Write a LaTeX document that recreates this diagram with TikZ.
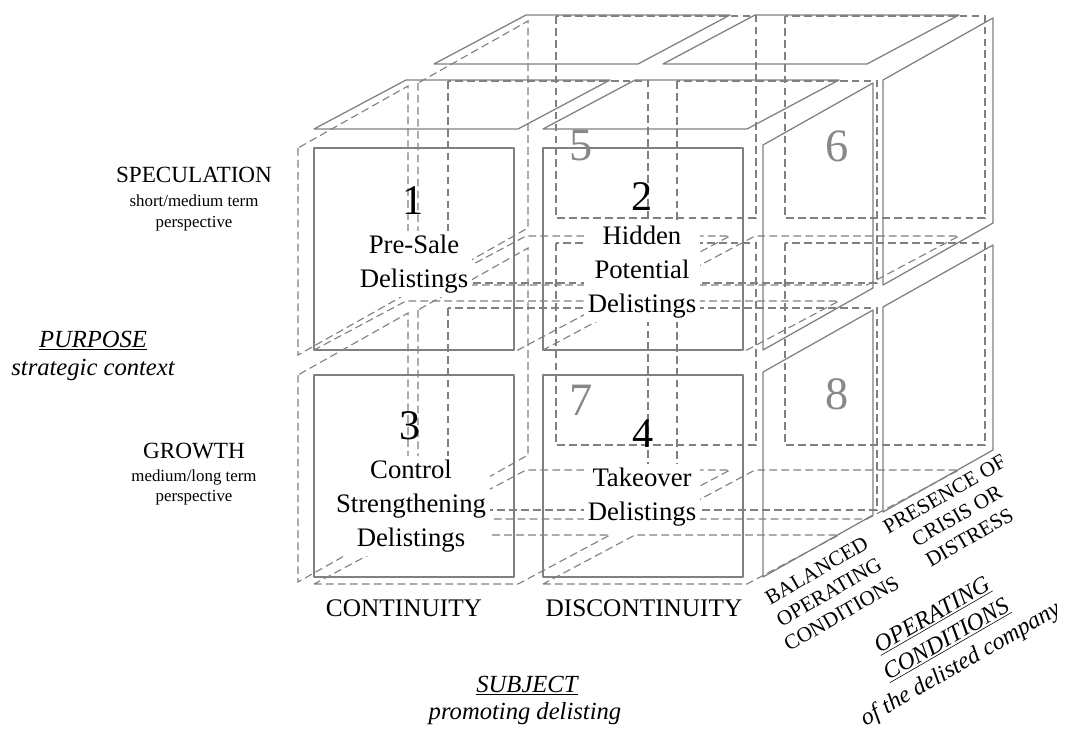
\documentclass[tikz,border=0pt]{standalone}
\usepackage{fontspec}
\setmainfont{Liberation Serif}
\definecolor{edgegray}{RGB}{128,128,128}
\definecolor{numgray}{RGB}{136,136,136}

\begin{document}
\begin{tikzpicture}[x=0.025cm,y=-0.025cm,
  panel/.style={draw=edgegray,line width=0.9pt,line join=round},
  hidpanel/.style={draw=edgegray,line width=0.8pt,dash pattern=on 5.5pt off 3pt},
  cellno/.style={font=\fontsize{30}{30}\selectfont},
  backno/.style={font=\fontsize{33}{33}\selectfont,text=numgray},
  cellname/.style={font=\fontsize{19}{24}\selectfont,align=center,fill=white,inner sep=3pt},
  rowname/.style={anchor=base,font=\fontsize{16.5}{20}\selectfont},
  rownote/.style={anchor=base,font=\fontsize{12}{14}\selectfont},
  axisname/.style={anchor=base,font=\fontsize{17.5}{21}\selectfont\itshape},
  colname/.style={anchor=base,font=\fontsize{18}{21}\selectfont},
  depthname/.style={rotate=30,align=center,font=\fontsize{15}{17.7}\selectfont}]
\useasboundingbox (0,0) rectangle (1069,735);

% hidden panels of the eight cubes
\foreach \k in {0,1}
  \foreach \c in {0,1}
    \foreach \r in {0,1}
    {
      \begin{scope}[shift={(314+229*\c+120*\k,148+227*\r-65*\k)}]
        \draw[hidpanel] (134-12*\k,-67) rectangle ++(200,202);
        \draw[hidpanel] (0,202+7*\r) -- (204,202+7*\r) -- (296,153+7*\r) -- (92,153+7*\r) -- cycle;
        \ifnum\c=0
          \draw[hidpanel] (-16,0) -- (-16,207) -- (94,145) -- (94,-62) -- cycle;
        \fi
      \end{scope}
    }

% visible panels: fronts, tops, right sides
\foreach \c in {0,1}
  \foreach \r in {0,1}
    \draw[panel] (314+229*\c,148+227*\r) rectangle ++(200,202);
\foreach \k in {0,1}
  \foreach \c in {0,1}
  {
    \begin{scope}[shift={(314+229*\c+120*\k,148-65*\k)}]
      \draw[panel] (0,-19) -- (204,-19) -- (296,-68) -- (92,-68) -- cycle;
    \end{scope}
  }
\foreach \k in {0,1}
  \foreach \r in {0,1}
  {
    \begin{scope}[shift={(543+120*\k,148+227*\r-65*\k)}]
      \draw[panel] (220,-3) -- (220,202) -- (330,140) -- (330,-65) -- cycle;
    \end{scope}
  }

% cell numbers and names
\node[backno] (num5) at (581,146) {5};
\node[backno] (num6) at (837,146) {6};
\node[backno] (num7) at (581,400) {7};
\node[backno] (num8) at (837,394) {8};
\node[cellno] (num1) at (413,201) {1};
\node[cellno] (num2) at (642,197) {2};
\node[cellno] (num3) at (410,426) {3};
\node[cellno] (num4) at (643,434) {4};
\node[cellname] (presale) at (414,264) {Pre-Sale\\Delistings};
\node[cellname] (hidden) at (642,272) {Hidden\\Potential\\Delistings};
\node[cellname] (control) at (411,506) {Control\\Strengthening\\Delistings};
\node[cellname] (takeover) at (642,497) {Takeover\\Delistings};

% purpose axis
\node[rowname] (spec) at (194,182) {SPECULATION};
\node[rownote] (specA) at (194,206) {short/medium term};
\node[rownote] (specB) at (194,227) {perspective};
\node[axisname] (purpose) at (93,347) {\underline{PURPOSE}};
\node[axisname] (purposeA) at (93,375) {strategic context};
\node[rowname] (growth) at (194,458) {GROWTH};
\node[rownote] (growthA) at (194,481) {medium/long term};
\node[rownote] (growthB) at (194,501) {perspective};

% subject axis
\node[colname] (cont) at (404,616) {CONTINUITY};
\node[colname] (discont) at (644,616) {DISCONTINUITY};
\node[axisname] (subject) at (527,692) {\underline{SUBJECT}};
\node[axisname] (subjectA) at (525,719) {promoting delisting};

% operating conditions axis
\node[depthname] (balanced) at (829,592) {BALANCED\\OPERATING\\CONDITIONS};
\node[depthname] (crisis) at (957,516) {PRESENCE OF\\CRISIS OR\\DISTRESS};
\node[rotate=30,align=center,font=\fontsize{17}{20}\selectfont\itshape]
  (opcond) at (947,641) {\underline{OPERATING}\\\underline{CONDITIONS}\\of the delisted company};
\end{tikzpicture}
\end{document}
